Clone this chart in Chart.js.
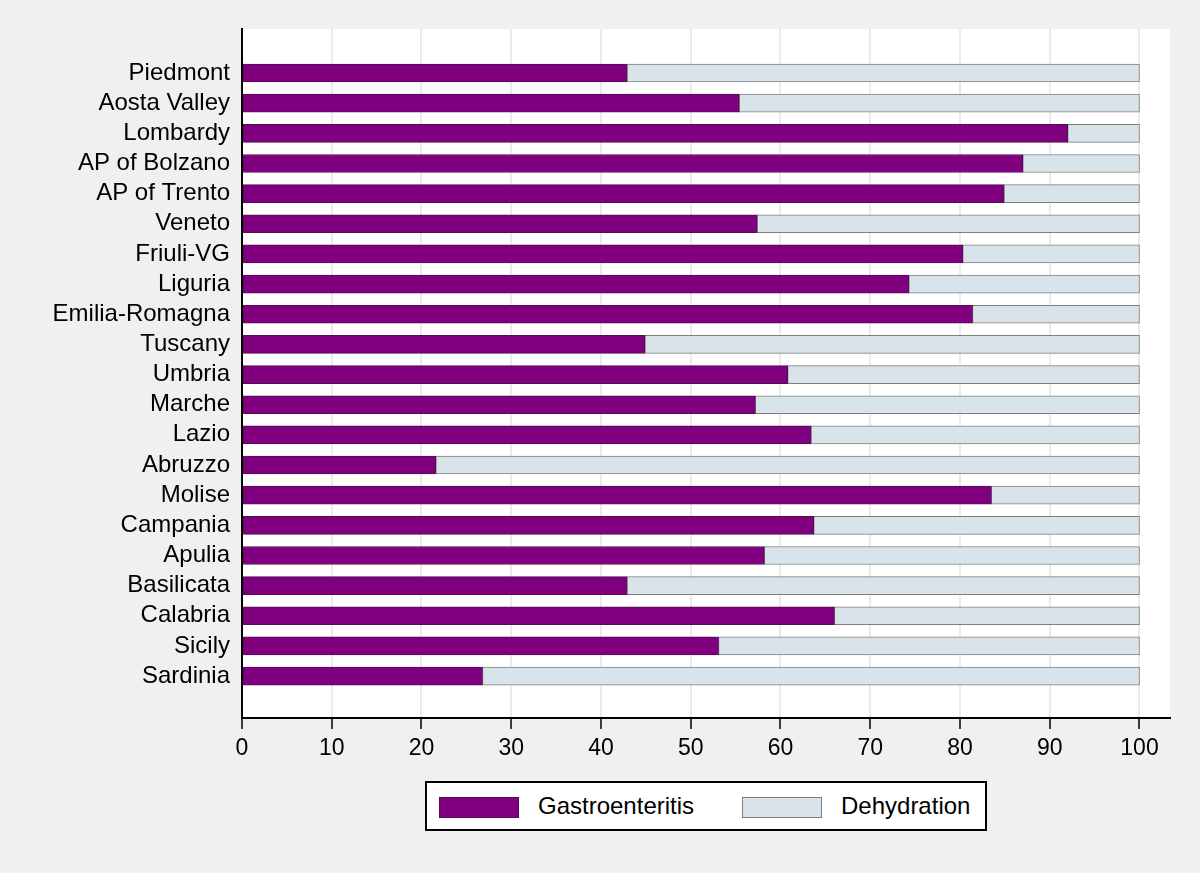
<!DOCTYPE html>
<html>
<head>
<meta charset="utf-8">
<script src="https://cdn.jsdelivr.net/npm/chart.js@4"></script>
<style>
  html, body { margin: 0; padding: 0; background: #f0f0f0; }
  #wrap { position: relative; width: 1200px; height: 873px; }
  #legend {
    position: absolute; left: 425px; top: 781px; width: 558px; height: 46px;
    border: 2px solid #000; background: #fff; box-sizing: content-box;
    font-family: "Liberation Sans", Arial, sans-serif; font-size: 24px; color: #000;
  }
  #legend .sw { position: absolute; top: 14px; width: 78px; height: 19px; border: 1px solid; }
  #legend .lbl { position: absolute; top: 0; white-space: nowrap; line-height: 46px; }
</style>
</head>
<body>
<div id="wrap">
  <canvas id="NCI-Chart__regions" width="1200" height="873"></canvas>
  <div id="legend"></div>
</div>
<script>
const regions = ['Piedmont', 'Aosta Valley', 'Lombardy', 'AP of Bolzano', 'AP of Trento', 'Veneto',
  'Friuli-VG', 'Liguria', 'Emilia-Romagna', 'Tuscany', 'Umbria', 'Marche', 'Lazio', 'Abruzzo',
  'Molise', 'Campania', 'Apulia', 'Basilicata', 'Calabria', 'Sicily', 'Sardinia'];
const gastroenteritis = [42.9, 55.4, 92.0, 87.0, 84.9, 57.4, 80.3, 74.3, 81.4, 44.9, 60.8,
  57.2, 63.4, 21.6, 83.5, 63.7, 58.2, 42.9, 66.0, 53.1, 26.8];
const dehydration = [57.1, 44.6, 8.0, 13.0, 15.1, 42.6, 19.7, 25.7, 18.6, 55.1, 39.2,
  42.8, 36.6, 78.4, 16.5, 36.3, 41.8, 57.1, 34.0, 46.9, 73.2];
const xTicks = [0, 10, 20, 30, 40, 50, 60, 70, 80, 90, 100];

const family = '"Liberation Sans", Arial, sans-serif';

const plotBackground = {
  id: 'plotBackground',
  beforeDraw(chart) {
    const { ctx, chartArea: a } = chart;
    ctx.save();
    ctx.fillStyle = '#f0f0f0';
    ctx.fillRect(0, 0, chart.width, chart.height);
    ctx.fillStyle = '#ffffff';
    ctx.fillRect(a.left, a.top, a.right - a.left, a.bottom - a.top);
    ctx.restore();
  }
};

const chart = new Chart('NCI-Chart__regions', {
  type: 'bar',
  data: {
    labels: regions.map((r, i) => i),
    datasets: [{
      label: 'Gastroenteritis',
      data: gastroenteritis,
      backgroundColor: '#800080',
      borderColor: '#4f0f4f',
      borderWidth: 1,
      borderSkipped: false,
      barThickness: 18
    }, {
      label: 'Dehydration',
      data: dehydration,
      backgroundColor: '#d9e4ea',
      borderColor: '#7f7f7f',
      borderWidth: 1,
      borderSkipped: false,
      barThickness: 18
    }]
  },
  options: {
    indexAxis: 'y',
    responsive: false,
    animation: false,
    layout: { padding: { top: 29, right: 30, left: 0, bottom: 0 } },
    plugins: {
      legend: { display: false },
      tooltip: { enabled: false }
    },
    scales: {
      x: {
        type: 'linear',
        stacked: true,
        min: 0,
        max: 103.4,
        afterBuildTicks(scale) { scale.ticks = xTicks.map(v => ({ value: v })); },
        afterFit(scale) { scale.height = 155; },
        ticks: { font: { family, size: 23 }, color: '#000', padding: 6, maxRotation: 0 },
        grid: { color: '#ebebeb', lineWidth: 2, tickColor: '#000', tickLength: 11, tickWidth: 1.5 },
        border: { color: '#000', width: 2 }
      },
      y: {
        type: 'linear',
        stacked: true,
        reverse: true,
        offset: false,
        min: -1.46,
        max: 21.39,
        afterBuildTicks(scale) { scale.ticks = regions.map((r, i) => ({ value: i })); },
        afterFit(scale) { scale.width = 242; },
        ticks: {
          font: { family, size: 24 }, color: '#000', padding: 12, autoSkip: false,
          callback: v => regions[v]
        },
        grid: { display: false, drawTicks: false, offset: false },
        border: { color: '#000', width: 2 }
      }
    }
  },
  plugins: [plotBackground]
});

// legend box below the plot, built from the datasets
const legend = document.getElementById('legend');
const itemX = [[12, 111], [315, 414]];
chart.data.datasets.forEach((ds, i) => {
  const sw = document.createElement('div');
  sw.className = 'sw';
  sw.style.left = itemX[i][0] + 'px';
  sw.style.background = ds.backgroundColor;
  sw.style.borderColor = ds.borderColor;
  const lbl = document.createElement('div');
  lbl.className = 'lbl';
  lbl.style.left = itemX[i][1] + 'px';
  lbl.textContent = ds.label;
  legend.appendChild(sw);
  legend.appendChild(lbl);
});
</script>
</body>
</html>
